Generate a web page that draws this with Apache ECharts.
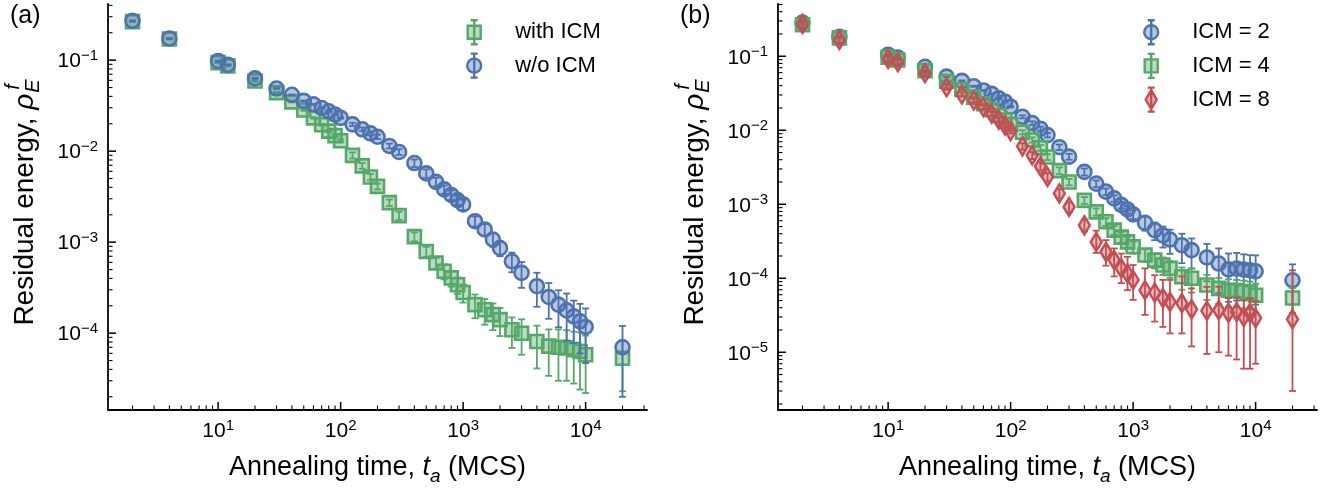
<!DOCTYPE html>
<html><head><meta charset="utf-8">
<script src="https://cdn.jsdelivr.net/npm/echarts@6/dist/echarts.min.js"></script>
<style>html,body{margin:0;padding:0;background:#fff}#c{width:1329px;height:493px}</style>
</head><body><div id="c"></div>
<script>
// ---------- data ----------
const annealTimes = [2,4,10,12,20,30,40,50,60,70,80,90,100,125,150,175,200,250,300,400,500,600,700,800,900,1000,1250,1500,1750,2000,2500,3000,4000,5000,6000,7000,8000,9000,10000,20000];

// panel (a)
const withICM = [0.265,0.171,0.094,0.0866,0.059,0.044,0.0348,0.0283,0.0232,0.0195,0.0166,0.0148,0.013,0.009,0.0069,0.0052,0.0041,0.00272,0.00196,0.00115,0.00079,0.00059,0.00048,0.000405,0.00034,0.00028,0.000206,0.000181,0.00016,0.000141,0.000109,0.0001,0.000081,0.000072,0.00007,0.000069,0.000066,0.000063,0.000058,0.000053];
const withICMErr = [0.003,0.002,0.0012,0.001,0.0008,0.0006,0.0005,0.0005,0.0004,0.0004,0.0004,0.0004,0.0004,0.0007,0.0005,0.0004,0.0003,0.00022,0.0002,0.00013,0.0001,0.00008,0.00009,0.00008,0.00007,0.000063,0.00006,0.000057,0.000052,0.000048,0.00004,0.000042,0.00004,0.000038,0.00004,0.000039,0.000038,0.000039,0.000036,0.00003];
const withoutICM = [0.271,0.173,0.098,0.089,0.063,0.0488,0.0416,0.0357,0.0327,0.0298,0.0274,0.0252,0.0232,0.0197,0.0174,0.0157,0.0144,0.0114,0.0098,0.0074,0.0057,0.0046,0.0038,0.0033,0.0029,0.0026,0.0017,0.00138,0.00107,0.00086,0.000617,0.00046,0.000328,0.00025,0.000206,0.000178,0.000153,0.000135,0.000117,0.00007];
const withoutICMErr = [0.002,0.0015,0.001,0.001,0.0008,0.0006,0.0004,0.0004,0.0004,0.0004,0.0004,0.0004,0.0004,0.0008,0.0008,0.0008,0.0008,0.0007,0.0007,0.0007,0.0006,0.0005,0.0004,0.0004,0.00035,0.00035,0.00022,0.0002,0.00018,0.00016,0.00015,0.000145,0.000133,0.000106,0.00009,0.000095,0.000075,0.000075,0.00007,0.00005];

// panel (b)
const icm2 = [0.285,0.183,0.105,0.096,0.072,0.053,0.0465,0.0393,0.0345,0.031,0.027,0.0243,0.0208,0.0152,0.0125,0.0105,0.0086,0.0059,0.0044,0.00274,0.0019,0.00148,0.0012,0.00098,0.00085,0.00073,0.00056,0.000447,0.00038,0.000334,0.00028,0.00024,0.000191,0.000158,0.000132,0.000135,0.000131,0.000128,0.000124,0.000094];
const icm2Err = [0.004,0.003,0.0015,0.0015,0.001,0.0008,0.0007,0.0006,0.0005,0.0005,0.0005,0.0005,0.0005,0.0007,0.0007,0.0007,0.0006,0.0005,0.0004,0.0003,0.0002,0.00015,0.00012,0.0001,0.0001,0.0001,0.00012,0.00012,0.00012,0.00012,0.00012,0.000105,0.0001,0.000095,0.000084,0.000085,0.00008,0.000077,0.00008,0.00006];
const icm4 = [0.267,0.177,0.097,0.089,0.064,0.046,0.0355,0.028,0.0228,0.0189,0.0158,0.0137,0.012,0.0094,0.0074,0.0058,0.00435,0.00285,0.002,0.00113,0.00079,0.00058,0.000447,0.00036,0.00031,0.000266,0.000206,0.000176,0.000151,0.000136,0.000105,0.0001,0.000081,0.000073,0.000069,0.000068,0.000066,0.000064,0.000059,0.000054];
const icm4Err = [0.004,0.003,0.0015,0.0015,0.001,0.0008,0.0006,0.0005,0.0004,0.0004,0.0004,0.0004,0.0004,0.0006,0.0006,0.0005,0.0004,0.0003,0.0002,0.00012,0.00009,0.00007,0.00006,0.00006,0.00005,0.00005,0.00004,0.00004,0.00004,0.000035,0.000035,0.000036,0.00003,0.000028,0.000028,0.000027,0.000027,0.000026,0.000025,0.00002];
const icm8 = [0.273,0.166,0.092,0.083,0.059,0.0382,0.0305,0.0253,0.0205,0.0167,0.0139,0.0116,0.00975,0.00607,0.00458,0.00326,0.00234,0.0014,0.00092,0.00052,0.00031,0.000228,0.000176,0.000136,0.000116,0.000095,0.000069,0.000064,0.000054,0.000048,0.000046,0.000038,0.0000365,0.000037,0.000034,0.000035,0.00003,0.000034,0.000029,0.000028];
const icm8ErrDown = [0.03,0.02,0.01,0.008,0.005,0.003,0.002,0.0015,0.0012,0.001,0.0009,0.0008,0.0007,0.0006,0.0005,0.0004,0.0003,0.0002,0.00014,0.00009,0.00009,0.00008,0.00007,0.00005,0.000047,0.000044,0.000037,0.000038,0.000032,0.00003,0.000028,0.000026,0.000027,0.000027,0.000025,0.000027,0.000024,0.000028,0.000022,0.000025];
const icm8ErrUp = [0.03,0.02,0.01,0.008,0.005,0.003,0.002,0.0015,0.0012,0.001,0.0009,0.0008,0.0007,0.0006,0.0005,0.0004,0.0003,0.0002,0.00014,0.0001,0.00013,0.0001,0.000077,0.00008,0.000079,0.000056,0.000067,0.000046,0.000041,0.000047,0.00006,0.000035,0.00004,0.00004,0.00002,0.00002,0.00002,0.00002,0.00002,0.0001];

// axes
const xMajorTicks = [10, 100, 1000, 10000];
const yMajorTicksA = [1e-4, 1e-3, 1e-2, 1e-1];
const yMajorTicksB = [1e-5, 1e-4, 1e-3, 1e-2, 1e-1];
const minorMantissas = [2,3,4,5,6,7,8,9];
const xLogRange = [0.101, 4.501];
const yLogRangeA = [-4.844, -0.383];
const yLogRangeB = [-5.78, -0.294];
const legendA = ['with ICM', 'w/o ICM'];
const legendB = ['ICM = 2', 'ICM = 4', 'ICM = 8'];

// ---------- styling ----------
const FONT = "'Liberation Sans', Arial, sans-serif";
const BLUE = '#4C72B0', GREEN = '#55A868', RED = '#C44E52';
const fillOf = c => c === BLUE ? 'rgba(76,114,176,0.4)' : c === GREEN ? 'rgba(85,168,104,0.4)' : 'rgba(196,78,82,0.4)';

const GRID_W = 539, GRID_H = 406, GRID_TOP = 4;
const grids = [{left:108, top:GRID_TOP, width:GRID_W, height:GRID_H}, {left:778, top:GRID_TOP, width:GRID_W, height:GRID_H}];

function minorTicks(lo, hi){
  const out = [];
  for (let e = Math.floor(lo) - 1; e <= Math.ceil(hi); e++) {
    for (const m of minorMantissas) { const v = m * Math.pow(10, e); const l = Math.log10(v); if (l > lo && l < hi) out.push(v); }
  }
  return out;
}

function powLabel(v){
  const e = Math.log10(v); const r = Math.round(e);
  if (Math.abs(e - r) > 1e-6) return '';
  return '{b|10}{sup|' + (r < 0 ? '\u2212' + (-r) : String(r)) + '}';
}
const labelRich = {
  b: {fontSize: 21, fontFamily: FONT, color: '#000', lineHeight: 24, padding: [7,0,0,0], verticalAlign: 'bottom'},
  sup: {fontSize: 15, fontFamily: FONT, color: '#000', lineHeight: 15, verticalAlign: 'top'}
};

function xAxisOf(gi){
  return {
    type: 'log', logBase: 10, gridIndex: gi,
    min: Math.pow(10, xLogRange[0]), max: Math.pow(10, xLogRange[1]),
    axisLine: {show: true, onZero: false, lineStyle: {color: '#000', width: 1.8}},
    axisTick: {show: false}, minorTick: {show: false}, splitLine: {show: false},
    axisLabel: {formatter: powLabel, rich: labelRich, margin: 8, showMinLabel: false, showMaxLabel: false},
    name: '{n|Annealing time, }{it|t}{sub|a}{n| (MCS)}',
    nameLocation: 'middle', nameGap: 44,
    nameTextStyle: {rich: {
      n: {fontSize: 27, fontFamily: FONT, color: '#000', lineHeight: 32, verticalAlign: 'top'},
      it: {fontSize: 27, fontFamily: FONT, fontStyle: 'italic', color: '#000', lineHeight: 32, verticalAlign: 'top'},
      sub: {fontSize: 19, fontFamily: FONT, fontStyle: 'italic', color: '#000', lineHeight: 19, verticalAlign: 'bottom'}
    }}
  };
}
function yAxisOf(gi, rng){
  return {
    type: 'log', logBase: 10, gridIndex: gi,
    min: Math.pow(10, rng[0]), max: Math.pow(10, rng[1]),
    axisLine: {show: true, onZero: false, lineStyle: {color: '#000', width: 1.8}},
    axisTick: {show: false}, minorTick: {show: false}, splitLine: {show: false},
    axisLabel: {formatter: powLabel, rich: labelRich, margin: 10, showMinLabel: false, showMaxLabel: false}
  };
}

// ticks drawn through the axes' scales
function xTickSeries(gi, yMin){
  const data = xMajorTicks.map(v => [v, yMin, 1]).concat(minorTicks(xLogRange[0], xLogRange[1]).map(v => [v, yMin, 0]));
  return {type: 'custom', name: 'xticks' + gi, xAxisIndex: gi, yAxisIndex: gi, data, silent: true, clip: false, z: 20,
    encode: {x: 0, y: 1},
    renderItem(params, api){
      const p = api.coord([api.value(0), api.value(1)]);
      const cs = params.coordSys; const b = cs.y + cs.height; const major = api.value(2) === 1;
      const len = major ? 8 : 4.5;
      return {type: 'line', shape: {x1: p[0], y1: b, x2: p[0], y2: b - len}, style: {stroke: '#000', lineWidth: major ? 1.5 : 1.1}};
    }};
}
function yTickSeries(gi, majors, rng, xMin){
  const data = majors.map(v => [xMin, v, 1]).concat(minorTicks(rng[0], rng[1]).map(v => [xMin, v, 0]));
  return {type: 'custom', name: 'yticks' + gi, xAxisIndex: gi, yAxisIndex: gi, data, silent: true, clip: false, z: 20,
    encode: {x: 0, y: 1},
    renderItem(params, api){
      const p = api.coord([api.value(0), api.value(1)]);
      const cs = params.coordSys; const l = cs.x; const major = api.value(2) === 1;
      const len = major ? 8 : 4.5;
      return {type: 'line', shape: {x1: l, y1: p[1], x2: l + len, y2: p[1]}, style: {stroke: '#000', lineWidth: major ? 1.5 : 1.1}};
    }};
}

function errSeries(gi, name, ys, down, up, color, z){
  const data = annealTimes.map((x, i) => [x, ys[i], ys[i] - down[i], ys[i] + (up ? up[i] : down[i])]);
  return {type: 'custom', name: name + ' err', xAxisIndex: gi, yAxisIndex: gi, data, silent: true, clip: false, z,
    encode: {x: 0, y: [2, 3]},
    renderItem(params, api){
      const x = api.value(0);
      const a = api.coord([x, api.value(3)]), b = api.coord([x, api.value(2)]);
      const cap = 3.5, st = {stroke: color, lineWidth: 1.8};
      return {type: 'group', children: [
        {type: 'line', shape: {x1: a[0], y1: a[1], x2: b[0], y2: b[1]}, style: st},
        {type: 'line', shape: {x1: a[0] - cap, y1: a[1], x2: a[0] + cap, y2: a[1]}, style: st},
        {type: 'line', shape: {x1: b[0] - cap, y1: b[1], x2: b[0] + cap, y2: b[1]}, style: st}
      ]};
    }};
}
function markSeries(gi, name, ys, color, symbol, size, z){
  return {type: 'scatter', name, xAxisIndex: gi, yAxisIndex: gi, data: annealTimes.map((x, i) => [x, ys[i]]),
    symbol, symbolSize: size, clip: false, silent: true, z,
    itemStyle: {color: fillOf(color), borderColor: color, borderWidth: 2.6, opacity: 1}};
}

const ICON_BAR = 'M8,0L8,24M4.5,0L11.5,0M4.5,24L11.5,24';
const ICON = {
  circle: 'path://M1,12A7,7,0,1,1,15,12A7,7,0,1,1,1,12Z' + ICON_BAR,
  rect: 'path://M1.5,5.5L14.5,5.5L14.5,18.5L1.5,18.5Z' + ICON_BAR,
  diamond: 'path://M8,2.5L13.5,12L8,21.5L2.5,12Z' + ICON_BAR
};
function legendItem(name, color, icon){
  return {name, icon: ICON[icon], itemStyle: {color: fillOf(color), borderColor: color, borderWidth: 2.4}};
}

const mctx = document.createElement('canvas').getContext('2d');
function tw(t, size, italic){ mctx.font = (italic ? 'italic ' : '') + size + 'px ' + FONT; return mctx.measureText(t).width; }
function yTitle(cx, cy){
  const s = 28, ss = 20, t1 = 'Residual energy, ';
  const w1 = tw(t1, s), w2 = tw('\u03c1', s, true), w3 = Math.max(tw('E', ss, true), tw('f', ss, true) + 3);
  const x0 = -(w1 + w2 + w3) / 2;
  const base = {fill: '#000', fontFamily: FONT, verticalAlign: 'middle', align: 'left'};
  return {type: 'group', x: cx, y: cy, rotation: Math.PI / 2, silent: true, children: [
    {type: 'text', x: x0, y: 0, style: Object.assign({text: t1, fontSize: s}, base)},
    {type: 'text', x: x0 + w1, y: 0, style: Object.assign({text: '\u03c1', fontSize: s, fontStyle: 'italic'}, base)},
    {type: 'text', x: x0 + w1 + w2 + 1, y: 8, style: Object.assign({text: 'E', fontSize: ss, fontStyle: 'italic'}, base)},
    {type: 'text', x: x0 + w1 + w2 + 4, y: -12, style: Object.assign({text: 'f', fontSize: ss, fontStyle: 'italic'}, base)}
  ]};
}

const yMinA = Math.pow(10, yLogRangeA[0]), yMinB = Math.pow(10, yLogRangeB[0]), xMin = Math.pow(10, xLogRange[0]);

const legendBase = {orient: 'vertical', itemWidth: 72, itemHeight: 24, padding: 0, selectedMode: false,
  textStyle: {fontSize: 22, fontFamily: FONT, color: '#000', lineHeight: 24}};

const option = {
  animation: false,
  backgroundColor: '#fff',
  grid: grids.map(g => Object.assign({containLabel: false, outerBoundsMode: 'none'}, g)),
  xAxis: [xAxisOf(0), xAxisOf(1)],
  yAxis: [yAxisOf(0, yLogRangeA), yAxisOf(1, yLogRangeB)],
  legend: [
    Object.assign({}, legendBase, {left: 466, top: 19, itemGap: 7,
     data: [legendItem(legendA[0], GREEN, 'rect'), legendItem(legendA[1], BLUE, 'circle')]}),
    Object.assign({}, legendBase, {left: 1143, top: 19, itemGap: 7.3,
     data: [legendItem(legendB[0], BLUE, 'circle'), legendItem(legendB[1], GREEN, 'rect'), legendItem(legendB[2], RED, 'diamond')]})
  ],
  graphic: [
    yTitle(25, GRID_TOP + GRID_H / 2 - 4),
    yTitle(695, GRID_TOP + GRID_H / 2 - 4),
    {type: 'text', left: 10, top: 4, style: {text: '(a)', fontSize: 25, fontFamily: FONT, fill: '#000'}},
    {type: 'text', left: 680, top: 4, style: {text: '(b)', fontSize: 25, fontFamily: FONT, fill: '#000'}}
  ],
  series: [
    errSeries(0, legendA[0], withICM, withICMErr, null, GREEN, 2),
    markSeries(0, legendA[0], withICM, GREEN, 'rect', 13, 3),
    errSeries(0, legendA[1], withoutICM, withoutICMErr, null, BLUE, 4),
    markSeries(0, legendA[1], withoutICM, BLUE, 'circle', 14, 5),
    errSeries(1, legendB[0], icm2, icm2Err, null, BLUE, 2),
    markSeries(1, legendB[0], icm2, BLUE, 'circle', 14, 3),
    errSeries(1, legendB[1], icm4, icm4Err, null, GREEN, 4),
    markSeries(1, legendB[1], icm4, GREEN, 'rect', 13, 5),
    errSeries(1, legendB[2], icm8, icm8ErrDown, icm8ErrUp, RED, 6),
    markSeries(1, legendB[2], icm8, RED, 'diamond', [11, 18], 7),
    xTickSeries(0, yMinA), xTickSeries(1, yMinB),
    yTickSeries(0, yMajorTicksA, yLogRangeA, xMin), yTickSeries(1, yMajorTicksB, yLogRangeB, xMin)
  ]
};
const chart = echarts.init(document.getElementById('c'), null, {renderer: 'canvas', width: 1329, height: 493});
chart.setOption(option);
</script>
</body></html>
